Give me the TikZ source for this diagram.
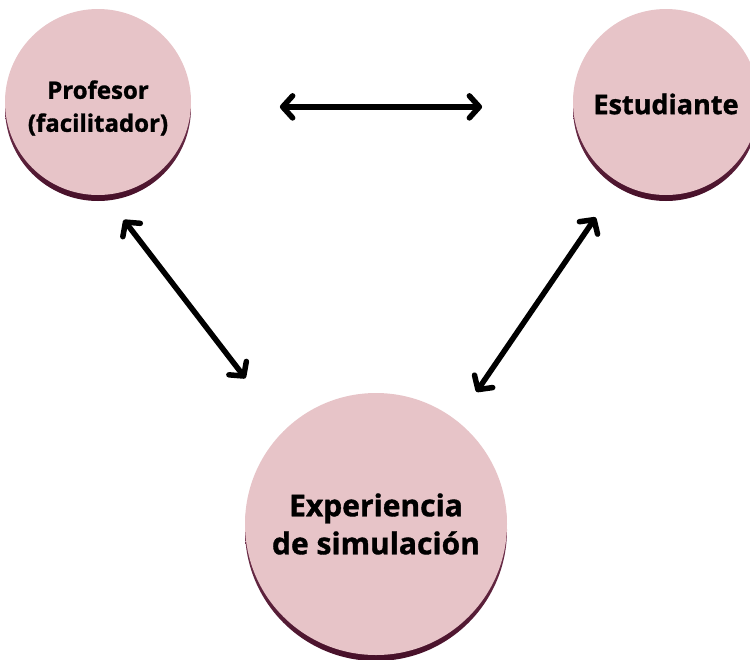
\documentclass[tikz,border=0pt]{standalone}
\usepackage{fontspec}
\setmainfont{Open Sans}[BoldFeatures={FakeBold=1.2}]
\usetikzlibrary{arrows.meta,shadows}
\definecolor{discpink}{RGB}{231,196,200}
\definecolor{rimlight}{RGB}{160,90,120}
\definecolor{rimdark}{RGB}{70,15,40}
\tikzset{
  disc/.style={circle, inner sep=0pt, outer sep=0pt, fill=discpink,
    general shadow={shadow yshift=-6pt, top color=rimlight, bottom color=rimdark}},
  lbl/.style={align=center, font=\bfseries, text=black, inner sep=0pt},
  arr/.style={line width=5.5pt, line cap=round,
    {Straight Barb[length=10pt,width=22pt,round]}-{Straight Barb[length=10pt,width=22pt,round]}}
}
\begin{document}
\begin{tikzpicture}[x=1pt,y=-1pt]
\useasboundingbox (0,0) rectangle (750,659);
\clip (0,0) rectangle (750,659);
\node[disc, minimum size=186pt] (P) at (98,102) {};
\node[disc, minimum size=186pt] (E) at (666,102) {};
\node[disc, minimum size=262pt] (S) at (376,524) {};
\node[lbl, font=\bfseries\fontsize{24}{33}\selectfont] (Pt) at ([yshift=-6pt]P.center) {Profesor\\(facilitador)};
\node[lbl, font=\bfseries\fontsize{27}{33}\selectfont] (Et) at ([yshift=-2pt]E.center) {Estudiante};
\node[lbl, font=\bfseries\fontsize{30}{38}\selectfont] (St) at (S.center) {Experiencia\\de simulación};
\draw[arr, shorten <=89pt, shorten >=91pt] (P.-3) -- (E.183);
\draw[arr, shorten <=31.7pt, shorten >=65pt] (P.-86.4) -- (S.134.8);
\draw[arr, shorten <=42.2pt, shorten >=35pt] (E.-120.4) -- (S.52.5);
\end{tikzpicture}
\end{document}
